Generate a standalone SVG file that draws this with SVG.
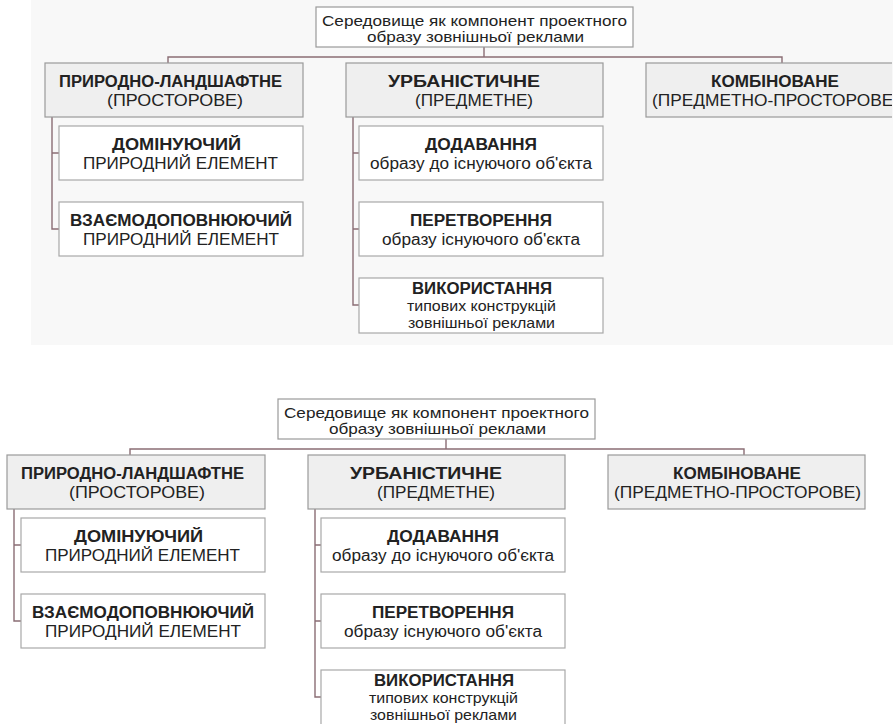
<svg xmlns="http://www.w3.org/2000/svg" width="893" height="724" viewBox="0 0 893 724">
<defs>
<style>
.bg{fill:#f8f8f8}
.root{fill:#ffffff;stroke:#9a9a9a;stroke-width:1.2}
.cat{fill:#efefef;stroke:#9a9a9a;stroke-width:1.2}
.leaf{fill:#ffffff;stroke:#a8a8a8;stroke-width:1.2}
.con{fill:none;stroke:#8a6d74;stroke-width:1.4}
text{font-family:"Liberation Sans",Arial,sans-serif;fill:#222222;text-anchor:middle}
.r{font-size:15px}
.t{font-size:16px}
.b{font-size:16px;font-weight:bold}
.s{font-size:16px}
.sb{font-size:16px;font-weight:bold}
.xs{font-size:15px}
</style>
<clipPath id="clipTop"><rect x="0" y="0" width="892" height="392"/></clipPath>
</defs>
<rect class="bg" x="31" y="0" width="862" height="345"/>

<g id="diagramTop" clip-path="url(#clipTop)">
<g id="connectorsTop">
<path class="con" d="M484 47V57M168 63V57H782V63M52 117V229H59M52 153H59M353 117V305H359M353 153H359M353 229H359"/>
</g>
<g id="rootTop"><rect class="root" x="316" y="7" width="317" height="40"/>
<text class="r" x="474.5" y="26" textLength="305" lengthAdjust="spacingAndGlyphs">Середовище як компонент проектного</text>
<text class="r" x="475.5" y="42" textLength="217" lengthAdjust="spacingAndGlyphs">образу зовнішньої реклами</text></g>
<g id="natTop"><rect class="cat" x="45" y="63" width="258" height="54"/>
<text class="b" x="170.5" y="87" textLength="223" lengthAdjust="spacingAndGlyphs">ПРИРОДНО-ЛАНДШАФТНЕ</text>
<text class="t" x="175" y="106" textLength="136" lengthAdjust="spacingAndGlyphs">(ПРОСТОРОВЕ)</text></g>
<g id="urbTop"><rect class="cat" x="346" y="63" width="257" height="54"/>
<text class="b" x="464" y="87" textLength="152" lengthAdjust="spacingAndGlyphs">УРБАНІСТИЧНЕ</text>
<text class="t" x="474" y="106" textLength="118" lengthAdjust="spacingAndGlyphs">(ПРЕДМЕТНЕ)</text></g>
<g id="combTop"><rect class="cat" x="646" y="63" width="257" height="54"/>
<text class="b" x="775" y="87" textLength="128" lengthAdjust="spacingAndGlyphs">КОМБІНОВАНЕ</text>
<text class="t" x="775.5" y="106" textLength="247" lengthAdjust="spacingAndGlyphs">(ПРЕДМЕТНО-ПРОСТОРОВЕ)</text></g>
<g id="domTop"><rect class="leaf" x="59" y="126" width="244" height="54"/>
<text class="b" x="176.5" y="150" textLength="129" lengthAdjust="spacingAndGlyphs">ДОМІНУЮЧИЙ</text>
<text class="t" x="180.5" y="169" textLength="195" lengthAdjust="spacingAndGlyphs">ПРИРОДНИЙ ЕЛЕМЕНТ</text></g>
<g id="compTop"><rect class="leaf" x="59" y="202" width="244" height="54"/>
<text class="b" x="181" y="226" textLength="222" lengthAdjust="spacingAndGlyphs">ВЗАЄМОДОПОВНЮЮЧИЙ</text>
<text class="t" x="181" y="245" textLength="196" lengthAdjust="spacingAndGlyphs">ПРИРОДНИЙ ЕЛЕМЕНТ</text></g>
<g id="addTop"><rect class="leaf" x="359" y="126" width="244" height="54"/>
<text class="sb" x="481" y="150" textLength="112" lengthAdjust="spacingAndGlyphs">ДОДАВАННЯ</text>
<text class="s" x="481" y="169" textLength="222" lengthAdjust="spacingAndGlyphs">образу до існуючого об'єкта</text></g>
<g id="transTop"><rect class="leaf" x="359" y="202" width="244" height="54"/>
<text class="sb" x="481" y="226" textLength="142" lengthAdjust="spacingAndGlyphs">ПЕРЕТВОРЕННЯ</text>
<text class="s" x="481" y="245" textLength="198" lengthAdjust="spacingAndGlyphs">образу існуючого об'єкта</text></g>
<g id="useTop"><rect class="leaf" x="359" y="278" width="244" height="55"/>
<text class="sb" x="482" y="294" textLength="140" lengthAdjust="spacingAndGlyphs">ВИКОРИСТАННЯ</text>
<text class="xs" x="481.5" y="311" textLength="149" lengthAdjust="spacingAndGlyphs">типових конструкцій</text>
<text class="xs" x="481.5" y="328" textLength="147" lengthAdjust="spacingAndGlyphs">зовнішньої реклами</text></g>
</g>

<g id="diagramBottom" transform="translate(-38,392)">
<g id="connectorsBottom">
<path class="con" d="M484 47V57M168 63V57H782V63M52 117V229H59M52 153H59M353 117V305H359M353 153H359M353 229H359"/>
</g>
<g id="rootBottom"><rect class="root" x="316" y="7" width="317" height="40"/>
<text class="r" x="474.5" y="26" textLength="305" lengthAdjust="spacingAndGlyphs">Середовище як компонент проектного</text>
<text class="r" x="475.5" y="42" textLength="217" lengthAdjust="spacingAndGlyphs">образу зовнішньої реклами</text></g>
<g id="natBottom"><rect class="cat" x="45" y="63" width="258" height="54"/>
<text class="b" x="170.5" y="87" textLength="223" lengthAdjust="spacingAndGlyphs">ПРИРОДНО-ЛАНДШАФТНЕ</text>
<text class="t" x="175" y="106" textLength="136" lengthAdjust="spacingAndGlyphs">(ПРОСТОРОВЕ)</text></g>
<g id="urbBottom"><rect class="cat" x="346" y="63" width="257" height="54"/>
<text class="b" x="464" y="87" textLength="152" lengthAdjust="spacingAndGlyphs">УРБАНІСТИЧНЕ</text>
<text class="t" x="474" y="106" textLength="118" lengthAdjust="spacingAndGlyphs">(ПРЕДМЕТНЕ)</text></g>
<g id="combBottom"><rect class="cat" x="646" y="63" width="257" height="54"/>
<text class="b" x="775" y="87" textLength="128" lengthAdjust="spacingAndGlyphs">КОМБІНОВАНЕ</text>
<text class="t" x="775.5" y="106" textLength="247" lengthAdjust="spacingAndGlyphs">(ПРЕДМЕТНО-ПРОСТОРОВЕ)</text></g>
<g id="domBottom"><rect class="leaf" x="59" y="126" width="244" height="54"/>
<text class="b" x="176.5" y="150" textLength="129" lengthAdjust="spacingAndGlyphs">ДОМІНУЮЧИЙ</text>
<text class="t" x="180.5" y="169" textLength="195" lengthAdjust="spacingAndGlyphs">ПРИРОДНИЙ ЕЛЕМЕНТ</text></g>
<g id="compBottom"><rect class="leaf" x="59" y="202" width="244" height="54"/>
<text class="b" x="181" y="226" textLength="222" lengthAdjust="spacingAndGlyphs">ВЗАЄМОДОПОВНЮЮЧИЙ</text>
<text class="t" x="181" y="245" textLength="196" lengthAdjust="spacingAndGlyphs">ПРИРОДНИЙ ЕЛЕМЕНТ</text></g>
<g id="addBottom"><rect class="leaf" x="359" y="126" width="244" height="54"/>
<text class="sb" x="481" y="150" textLength="112" lengthAdjust="spacingAndGlyphs">ДОДАВАННЯ</text>
<text class="s" x="481" y="169" textLength="222" lengthAdjust="spacingAndGlyphs">образу до існуючого об'єкта</text></g>
<g id="transBottom"><rect class="leaf" x="359" y="202" width="244" height="54"/>
<text class="sb" x="481" y="226" textLength="142" lengthAdjust="spacingAndGlyphs">ПЕРЕТВОРЕННЯ</text>
<text class="s" x="481" y="245" textLength="198" lengthAdjust="spacingAndGlyphs">образу існуючого об'єкта</text></g>
<g id="useBottom"><rect class="leaf" x="359" y="278" width="244" height="55"/>
<text class="sb" x="482" y="294" textLength="140" lengthAdjust="spacingAndGlyphs">ВИКОРИСТАННЯ</text>
<text class="xs" x="481.5" y="311" textLength="149" lengthAdjust="spacingAndGlyphs">типових конструкцій</text>
<text class="xs" x="481.5" y="328" textLength="147" lengthAdjust="spacingAndGlyphs">зовнішньої реклами</text></g>
</g>
</svg>
